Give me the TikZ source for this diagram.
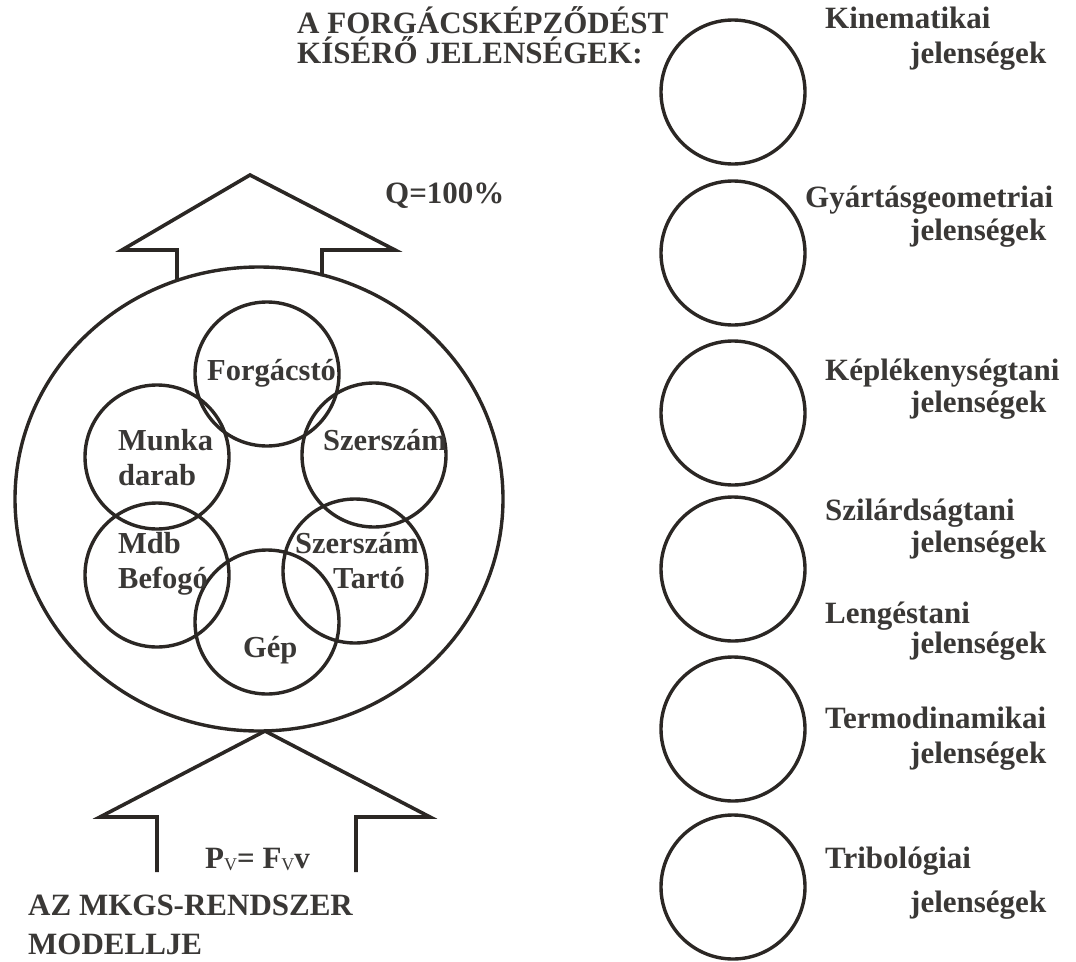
\documentclass[tikz,border=0pt]{standalone}
\usepackage{fontspec}
\setmainfont{Liberation Serif}
\usetikzlibrary{shapes.geometric}
\definecolor{ink}{HTML}{2B2724}
\definecolor{print}{HTML}{3A3836}
\tikzset{
  ring/.style={draw=ink, line width=3.4pt, circle, minimum size=144pt, inner sep=0pt},
  bigring/.style={draw=ink, line width=3.4pt, ellipse, minimum width=488pt, minimum height=464pt, inner sep=0pt},
  blockarrow/.style={draw=ink, line width=3.6pt, line join=miter},
  txt/.style={anchor=base west, inner sep=0pt, text=print, font=\bfseries\fontsize{31}{32}\selectfont},
  intxt/.style={txt, font=\bfseries\fontsize{30.5}{31}\selectfont}
}

\begin{document}
\begin{tikzpicture}[x=1pt, y=-1pt]
    \useasboundingbox (0,0) rectangle (1076,961);

    \begin{scope}
        \node[bigring] (mkgs) at (259,499) {};
        \node[ring] (forgacsto) at (267,374) {};
        \node[ring] (munka) at (157,457) {};
        \node[ring] (szerszam) at (374,455) {};
        \node[ring] (befogo) at (157,575) {};
        \node[ring] (tarto) at (355,571) {};
        \node[ring] (gep) at (267,622) {};
        \node[intxt] (forgacstotxt) at (207,380) {Forgácstó};
        \node[intxt] (munkatxt) at (118,450) {Munka};
        \node[intxt] (darabtxt) at (118,485) {darab};
        \node[intxt] (szerszamtxt) at (323,450) {Szerszám};
        \node[intxt] (mdbtxt) at (118,553) {Mdb};
        \node[intxt] (befogotxt) at (118,588) {Befogó};
        \node[intxt] (tartoszerszamtxt) at (295,553) {Szerszám};
        \node[intxt] (tartotxt) at (333,588) {Tartó};
        \node[intxt] (geptxt) at (243,657) {Gép};
    \end{scope}

    \coordinate (kimenet) at (250,175);
    \coordinate (bemenet) at (265,731);
    \draw[blockarrow] (177,281) -- (177,250) -- (122,250) -- (kimenet) -- (395,250) -- (322,250) -- (322,276);
    \draw[blockarrow] (157,872) -- (157,817) -- (100,817) -- (bemenet) -- (430,817) -- (356,817) -- (356,872);

    \node[txt] (q) at (385,203) {Q=100\%};
    \node[txt] (pv) at (205,868) {P{\mdseries\fontsize{18}{18}\selectfont\raisebox{-2pt}{V}}= F{\mdseries\fontsize{18}{18}\selectfont\raisebox{-2pt}{V}}v};
    \node[txt] (modell1) at (28,915) {AZ MKGS-RENDSZER};
    \node[txt] (modell2) at (28,954) {MODELLJE};
    \node[txt] (cim1) at (297,33) {A FORGÁCSKÉPZŐDÉST};
    \node[txt] (cim2) at (297,63) {KÍSÉRŐ JELENSÉGEK:};

    \foreach \y/\nm in {92/kin, 253/gyart, 413/keplek, 569/szilard, 729/termo, 887/tribo}
        \node[ring] (\nm) at (733,\y) {};

    \foreach \x/\nev/\a/\b in {825/Kinematikai/28/63, 805/Gyártásgeometriai/207/240,
        825/Képlékenységtani/380/412, 825/Szilárdságtani/520/552, 825/Lengéstani/623/653,
        825/Termodinamikai/728/763, 825/Tribológiai/868/912}
    {
        \node[txt] (nev\a) at (\x,\a) {\nev};
        \node[txt] (jel\b) at (910,\b) {jelenségek};
    }
\end{tikzpicture}
\end{document}
